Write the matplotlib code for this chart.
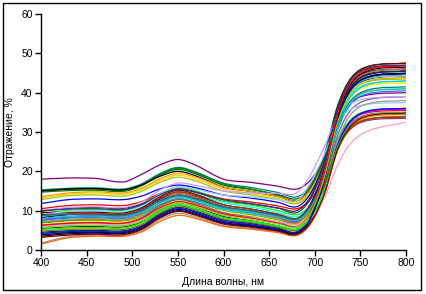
import matplotlib
matplotlib.use("Agg")
import matplotlib.pyplot as plt
from matplotlib.patches import Rectangle, PathPatch
from matplotlib.path import Path

plt.rcParams['font.family'] = ['Liberation Sans', 'DejaVu Sans']

wavelength = [400, 430, 460, 490, 510, 530, 550, 570, 600, 630, 660, 680, 695, 710, 725, 740, 760, 800]

s01 = [18.0, 18.3, 18.2, 17.3, 19.2, 21.6, 23.0, 21.5, 18.0, 17.2, 16.2, 15.5, 17.7, 23.3, 32.7, 37.6, 39.5, 40.0]
s02 = [15.3, 15.7, 15.8, 15.5, 16.8, 19.4, 21.0, 19.8, 17.0, 15.9, 14.6, 13.5, 16.4, 23.9, 36.3, 42.8, 45.4, 46.0]
s03 = [15.0, 15.4, 15.5, 15.2, 16.5, 19.0, 20.5, 19.3, 16.5, 15.4, 14.1, 13.0, 15.9, 23.4, 35.8, 42.3, 44.9, 45.5]
s04 = [14.7, 15.1, 15.2, 14.9, 16.3, 19.1, 20.8, 19.6, 16.8, 15.5, 13.9, 12.5, 15.6, 23.5, 36.7, 43.6, 46.3, 47.0]
s05 = [15.0, 15.5, 15.6, 15.3, 16.5, 18.7, 20.0, 18.8, 16.0, 14.9, 13.6, 12.5, 15.3, 22.6, 34.6, 40.9, 43.4, 44.0]
s06 = [13.5, 14.5, 14.8, 14.5, 15.7, 18.1, 19.5, 18.5, 16.0, 14.9, 13.6, 12.5, 15.3, 22.4, 34.2, 40.4, 42.9, 43.5]
s07 = [13.2, 14.2, 14.5, 14.2, 15.4, 17.7, 19.0, 18.0, 15.5, 14.4, 13.1, 12.0, 14.7, 21.8, 33.4, 39.5, 41.9, 42.5]
s08 = [12.8, 13.8, 14.0, 13.7, 14.9, 17.2, 18.5, 17.5, 15.0, 14.0, 12.8, 11.8, 14.4, 21.1, 32.2, 38.1, 40.4, 41.0]
s09 = [11.8, 12.8, 13.0, 12.8, 13.7, 15.5, 16.5, 15.8, 14.0, 13.2, 12.1, 11.0, 14.2, 22.2, 35.5, 42.5, 45.3, 46.0]
s10 = [10.5, 11.3, 11.5, 11.3, 12.3, 14.3, 15.5, 14.8, 13.0, 12.2, 11.2, 10.5, 12.8, 18.5, 28.0, 33.0, 35.0, 35.5]
s11 = [9.8, 10.6, 10.8, 10.6, 11.7, 14.1, 15.5, 14.6, 12.5, 11.7, 10.7, 10.0, 13.4, 22.0, 36.3, 43.8, 46.8, 47.5]
s12 = [9.3, 10.1, 10.3, 10.1, 11.4, 14.3, 16.0, 15.0, 12.5, 11.4, 10.0, 9.0, 11.4, 17.6, 27.9, 33.3, 35.5, 36.0]
s13 = [8.5, 9.5, 9.8, 9.6, 10.8, 13.4, 15.0, 14.1, 12.0, 10.9, 9.5, 8.5, 11.6, 19.5, 32.7, 39.6, 42.3, 43.0]
s14 = [9.5, 9.6, 9.6, 9.4, 10.7, 13.5, 15.2, 14.1, 11.5, 10.4, 9.0, 8.0, 11.6, 20.6, 35.7, 43.6, 46.7, 47.5]
s15 = [8.2, 9.0, 9.2, 9.0, 10.3, 12.9, 14.5, 13.5, 11.0, 9.9, 8.6, 7.5, 10.9, 19.7, 34.1, 41.7, 44.7, 45.5]
s16 = [7.5, 8.5, 8.8, 8.6, 9.8, 12.4, 14.0, 13.1, 11.0, 9.9, 8.6, 7.5, 10.0, 16.3, 26.8, 32.3, 34.5, 35.0]
s17 = [8.0, 8.4, 8.5, 8.3, 9.6, 12.2, 13.8, 12.9, 10.8, 9.7, 8.3, 7.2, 9.6, 15.6, 25.6, 30.9, 33.0, 33.5]
s18 = [7.5, 8.1, 8.2, 8.0, 9.3, 11.9, 13.5, 12.6, 10.5, 9.4, 8.1, 7.0, 10.0, 17.7, 30.5, 37.2, 39.8, 40.5]
s19 = [7.2, 7.8, 8.0, 7.8, 9.0, 11.5, 13.0, 12.2, 10.3, 9.2, 7.9, 6.8, 10.2, 18.9, 33.2, 40.7, 43.7, 44.5]
s20 = [7.0, 7.6, 7.8, 7.6, 9.1, 12.5, 14.5, 13.4, 11.0, 9.6, 8.1, 6.8, 10.3, 19.3, 34.2, 42.1, 45.2, 46.0]
s21 = [6.8, 7.4, 7.5, 7.3, 8.6, 11.4, 13.0, 12.1, 10.0, 8.9, 7.6, 6.5, 9.2, 15.9, 27.2, 33.1, 35.4, 36.0]
s22 = [6.5, 7.1, 7.3, 7.1, 8.3, 10.9, 12.5, 11.7, 9.8, 8.7, 7.4, 6.3, 9.6, 17.9, 31.6, 38.9, 41.8, 42.5]
s23 = [6.2, 6.8, 7.0, 6.8, 8.2, 11.1, 12.8, 11.8, 9.5, 8.4, 7.1, 6.0, 9.0, 16.6, 29.1, 35.7, 38.3, 39.0]
s24 = [10.0, 10.8, 11.0, 10.8, 12.2, 15.2, 17.0, 16.4, 15.0, 14.5, 14.4, 14.5, 19.0, 26.0, 34.1, 37.3, 38.6, 39.0]
s25 = [9.0, 9.8, 10.0, 9.8, 11.2, 14.2, 16.0, 15.4, 14.0, 13.5, 12.8, 12.5, 17.0, 24.0, 32.5, 35.8, 37.1, 37.5]
s26 = [1.8, 3.4, 3.8, 3.7, 4.9, 7.7, 9.3, 8.4, 6.2, 5.5, 4.6, 4.0, 7.1, 14.9, 27.8, 34.6, 37.3, 38.0]
s27 = [1.5, 3.1, 3.5, 3.5, 4.6, 7.2, 8.8, 8.0, 6.0, 5.3, 4.4, 3.7, 6.5, 13.6, 25.3, 31.4, 33.9, 34.5]
s28 = [3.5, 4.1, 4.3, 4.2, 5.4, 8.3, 10.0, 9.0, 6.8, 6.0, 4.9, 4.0, 7.8, 17.6, 33.8, 42.3, 45.7, 46.5]
s29 = [4.0, 4.5, 4.6, 4.5, 5.9, 9.1, 11.0, 10.0, 7.5, 6.6, 5.4, 4.5, 7.3, 14.5, 26.4, 32.7, 35.2, 35.8]
s30 = [4.5, 4.9, 5.0, 4.9, 6.1, 8.9, 10.5, 9.6, 7.3, 6.4, 5.3, 4.5, 7.3, 14.6, 26.6, 32.9, 35.4, 36.0]
s31 = [5.0, 5.4, 5.5, 5.4, 6.6, 9.4, 11.0, 10.0, 7.8, 6.8, 5.7, 5.0, 8.5, 17.5, 32.3, 40.1, 43.2, 44.0]
s32 = [5.5, 5.9, 6.0, 5.9, 7.2, 10.2, 12.0, 11.0, 8.5, 7.4, 6.1, 5.2, 8.8, 17.9, 33.1, 41.0, 44.2, 45.0]
s33 = [5.8, 6.2, 6.3, 6.2, 7.3, 9.9, 11.5, 10.5, 8.3, 7.3, 6.1, 5.3, 8.7, 17.4, 31.7, 39.2, 42.2, 43.0]
s34 = [4.8, 5.2, 5.3, 5.2, 6.5, 9.4, 11.2, 10.2, 8.0, 7.0, 5.8, 5.0, 7.6, 14.3, 25.3, 31.1, 33.4, 34.0]
s35 = [4.2, 4.7, 4.8, 4.7, 6.0, 9.0, 10.8, 9.8, 7.6, 6.7, 5.5, 4.6, 8.3, 17.7, 33.2, 41.4, 44.7, 45.5]
s36 = [6.0, 6.5, 6.6, 6.5, 7.7, 10.4, 12.0, 11.1, 9.0, 8.2, 7.2, 6.5, 8.0, 13.0, 21.6, 27.3, 30.4, 32.5]
s37 = [9.0, 9.2, 9.3, 9.1, 10.4, 13.2, 14.8, 13.8, 11.5, 10.4, 9.1, 8.0, 10.3, 16.3, 26.1, 31.2, 33.3, 33.8]
s38 = [5.2, 5.6, 5.7, 5.6, 6.9, 9.8, 11.5, 10.5, 8.2, 7.3, 6.1, 5.3, 8.0, 14.8, 26.1, 32.0, 34.4, 35.0]
s39 = [8.8, 9.0, 9.0, 8.8, 10.0, 12.5, 14.0, 13.1, 11.0, 10.0, 8.8, 7.8, 10.8, 18.6, 31.4, 38.1, 40.8, 41.5]
s40 = [8.0, 8.5, 8.6, 8.4, 9.6, 12.0, 13.5, 12.6, 10.5, 9.6, 8.4, 7.5, 10.5, 18.2, 31.0, 37.7, 40.3, 41.0]
s41 = [3.2, 3.8, 4.0, 3.9, 5.2, 8.1, 9.8, 8.8, 6.6, 5.8, 4.8, 4.0, 6.8, 13.9, 25.6, 31.7, 34.2, 34.8]
s42 = [10.0, 10.4, 10.5, 10.3, 11.5, 14.0, 15.5, 14.7, 12.8, 11.8, 10.6, 9.5, 12.9, 21.5, 35.8, 43.3, 46.3, 47.0]
s43 = [6.3, 6.8, 6.9, 6.8, 8.0, 10.7, 12.3, 11.4, 9.2, 8.1, 6.8, 5.8, 9.5, 18.9, 34.5, 42.7, 46.0, 46.8]
s44 = [3.8, 4.4, 4.5, 4.4, 5.7, 8.6, 10.3, 9.3, 7.0, 6.2, 5.1, 4.3, 7.9, 17.3, 32.7, 40.8, 44.0, 44.8]
s45 = [5.6, 6.1, 6.2, 6.1, 7.4, 10.3, 12.0, 11.0, 8.8, 7.8, 6.6, 5.8, 9.2, 18.0, 32.4, 40.0, 43.0, 43.8]

series = [s01, s02, s03, s04, s05, s06, s07, s08, s09, s10, s11, s12, s13, s14, s15,
          s16, s17, s18, s19, s20, s21, s22, s23, s24, s25, s26, s27, s28, s29, s30,
          s31, s32, s33, s34, s35, s36, s37, s38, s39, s40, s41, s42, s43, s44, s45]

colors = ['#800080', '#008080', '#006600', '#008000', '#000000', '#FF9900', '#FFCC00', '#99CC00',
          '#0000FF', '#FF0000', '#333300', '#00FF00', '#00FFFF', '#800000', '#000080', '#FF00FF',
          '#993366', '#3366FF', '#33CCCC', '#FF6600', '#339966', '#FFFF00', '#666699', '#CC99FF',
          '#99CCFF', '#969696', '#FF6600', '#000000', '#FF00FF', '#0000FF', '#FFCC99', '#000000',
          '#00CCFF', '#808000', '#003366', '#FF99CC', '#993300', '#00FF00', '#008080', '#00CCCC',
          '#800000', '#333399', '#FF0000', '#000080', '#99CC00']

x_ticks = [400, 450, 500, 550, 600, 650, 700, 750, 800]
y_ticks = [0, 10, 20, 30, 40, 50, 60]


def smooth_path(xs, ys):
    """Smoothed line (like a spreadsheet 'smoothed line'): cubic Bezier
    segments passing through every data point."""
    n = len(xs)
    slopes = []
    for i in range(n):
        if i == 0:
            m = (ys[1] - ys[0]) / (xs[1] - xs[0])
        elif i == n - 1:
            m = (ys[-1] - ys[-2]) / (xs[-1] - xs[-2])
        else:
            m = (ys[i + 1] - ys[i - 1]) / (xs[i + 1] - xs[i - 1])
        slopes.append(m)
    verts = [(xs[0], ys[0])]
    codes = [Path.MOVETO]
    for i in range(n - 1):
        h = xs[i + 1] - xs[i]
        verts += [(xs[i] + h / 3, ys[i] + slopes[i] * h / 3),
                  (xs[i + 1] - h / 3, ys[i + 1] - slopes[i + 1] * h / 3),
                  (xs[i + 1], ys[i + 1])]
        codes += [Path.CURVE4] * 3
    return Path(verts, codes)


fig = plt.figure(figsize=(4.26, 2.94), dpi=100)
ax = fig.add_axes([41/426, 44/294, 365/426, 236/294])

for vals, c in zip(series, colors):
    ax.add_patch(PathPatch(smooth_path(wavelength, vals), facecolor='none',
                           edgecolor=c, lw=0.9))

ax.set_xlim(400, 800)
ax.set_ylim(0, 60)
ax.set_xticks(x_ticks)
ax.set_yticks(y_ticks)
for s in ['top', 'right']:
    ax.spines[s].set_visible(False)
for s in ['left', 'bottom']:
    ax.spines[s].set_linewidth(1.0)
    ax.spines[s].set_color('black')
ax.tick_params(direction='out', length=4, width=1.0, labelsize=7.5, pad=2)
ax.set_xlabel('Длина волны, нм', fontsize=7.5, labelpad=6)
ax.set_ylabel('Отражение, %', fontsize=7.5)
ax.yaxis.set_label_coords(-0.072, 0.5)

fig.patches.append(Rectangle((3/426, 4/294), 418/426, 287/294, transform=fig.transFigure,
                             fill=False, edgecolor='black', lw=1.0))

fig.savefig('out.png', dpi=100)
